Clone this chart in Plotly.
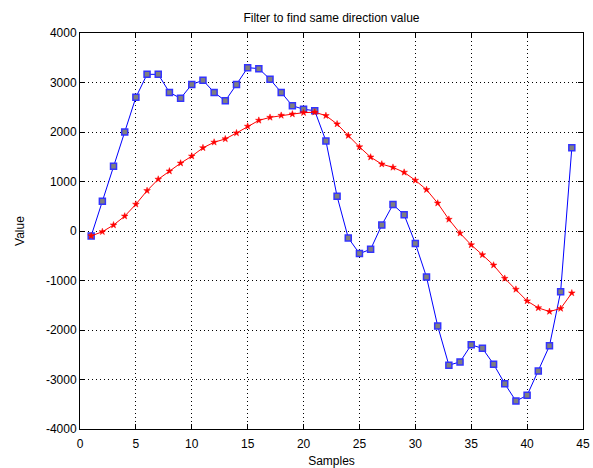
import plotly.graph_objects as go

samples = list(range(1, 45))
raw_values = [-100, 600, 1310, 2000, 2700, 3165, 3165, 2800, 2680, 2960,
              3045, 2800, 2630, 2960, 3300, 3280, 3065, 2800, 2530, 2460,
              2430, 1820, 700, -140, -456, -370, 120, 534, 327, -250,
              -930, -1920, -2710, -2645, -2300, -2370, -2690, -3085, -3435, -3320,
              -2830, -2320, -1225, 1680]
filtered_values = [-100, -15, 120, 300, 540, 815, 1045, 1210, 1370, 1512,
                   1680, 1793, 1860, 1980, 2115, 2235, 2295, 2335, 2362, 2390,
                   2400, 2330, 2161, 1928, 1699, 1492, 1351, 1285, 1185, 1024,
                   835, 562, 235, -45, -281, -482, -691, -958, -1179, -1414,
                   -1554, -1627, -1566, -1253]
x_ticks = [0, 5, 10, 15, 20, 25, 30, 35, 40, 45]
y_ticks = [-4000, -3000, -2000, -1000, 0, 1000, 2000, 3000, 4000]
y_tick_labels = ["-4000", "-3000", "-2000", "-1000", "0", "1000", "2000", "3000", "4000"]

font = "Liberation Sans, Arial, sans-serif"

fig = go.Figure()
fig.add_trace(go.Scatter(
    x=samples, y=raw_values, mode="lines+markers",
    line=dict(color="#0000ff", width=1),
    marker=dict(symbol="square", size=6, color="#7f7f7f",
                line=dict(color="#3333ff", width=1.5)),
    showlegend=False))
fig.add_trace(go.Scatter(
    x=samples, y=filtered_values, mode="lines+markers",
    line=dict(color="#ff0000", width=1),
    marker=dict(symbol="star", size=5, color="#ff0000",
                line=dict(color="#ff0000", width=0.5)),
    showlegend=False))

axis_common = dict(
    showline=True, linecolor="black", linewidth=1, mirror="ticks",
    ticks="inside", ticklen=5, tickcolor="black",
    showgrid=True, gridcolor="black", griddash="1px,3px", gridwidth=1,
    zeroline=False, automargin=False,
    tickfont=dict(family=font, size=12, color="black"),
)

fig.update_xaxes(range=[0, 45], tickvals=x_ticks,
                 title=dict(text="Samples", font=dict(family=font, size=12, color="black"), standoff=6),
                 ticklabelstandoff=4,
                 **axis_common)
fig.update_yaxes(range=[-4000, 4000], tickvals=y_ticks, ticktext=y_tick_labels,
                 title=dict(text="Value", font=dict(family=font, size=12, color="black"), standoff=18),
                 **axis_common)

fig.update_layout(
    width=593, height=468,
    margin=dict(l=80, r=10, t=33, b=39),
    paper_bgcolor="white", plot_bgcolor="white",
    title=dict(text="Filter to find same direction value", x=0.5, xanchor="center",
               xref="paper", y=1 - 18 / 468, yanchor="middle",
               font=dict(family=font, size=12, color="black")),
)

fig.write_html("out.html")
